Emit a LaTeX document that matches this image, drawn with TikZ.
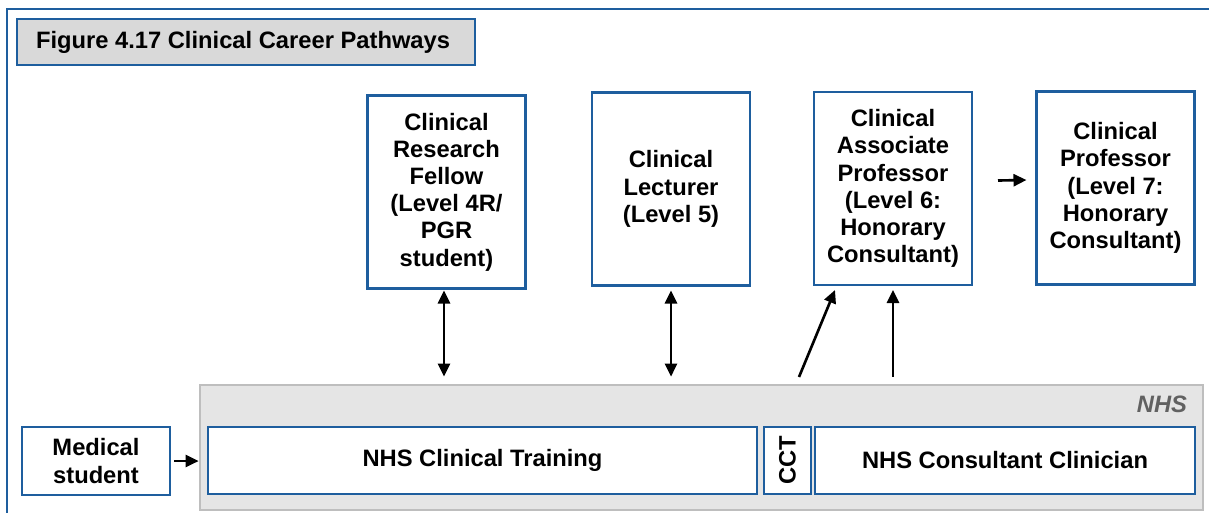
\documentclass[tikz,border=0pt]{standalone}
\usepackage{fontspec}
\setmainfont{Liberation Sans}
\usepackage{xcolor}
\usepackage{tikz}
\usetikzlibrary{arrows.meta, positioning, calc}

\definecolor{nhsblue}{RGB}{30,94,158}
\definecolor{nhsgrey}{RGB}{229,229,229}
\definecolor{nhsedge}{RGB}{190,190,190}
\definecolor{titlegrey}{RGB}{217,217,217}

\begin{document}
\begin{tikzpicture}[
  font=\fontsize{13.5}{15.5}\selectfont\bfseries,
  rolebox/.style={
    draw=nhsblue, fill=white, line width=1.5pt,
    minimum width=3.16cm, minimum height=3.86cm,
    align=center, inner sep=0pt, outer sep=0pt
  },
  lowbox/.style={
    draw=nhsblue, fill=white, line width=1.5pt,
    minimum height=1.34cm, align=center, inner sep=0pt, outer sep=0pt
  },
  titlebox/.style={
    draw=nhsblue, fill=titlegrey, line width=1.5pt,
    minimum width=9.16cm, minimum height=0.92cm, inner sep=0pt
  },
  nhsbox/.style={
    draw=nhsedge, fill=nhsgrey, line width=1.5pt,
    minimum width=20.06cm, minimum height=2.5cm, inner sep=0pt
  },
  arr/.style={-{Triangle[length=0.26cm,width=0.24cm]}, line width=1.5pt},
  dblarr/.style={{Triangle[length=0.26cm,width=0.24cm]}-{Triangle[length=0.26cm,width=0.24cm]}, line width=1.5pt}
]
\useasboundingbox (0,0) rectangle (24.18,-10.24);

% ── Outer frame ──────────────────────────────────────────────
\draw[nhsblue, line width=1.5pt] (0.14,-0.18) rectangle (24.5,-10.6);

% ── Title ────────────────────────────────────────────────────
\node[titlebox] (title) at (4.92,-0.84) {};
\node[anchor=west, inner sep=0pt] (titletext) at ([xshift=0.4cm]title.west) {Figure 4.17 Clinical Career Pathways};

% ── Academic posts ───────────────────────────────────────────
\node[rolebox] (fellow)   at (8.93,-3.84)  {Clinical\\Research\\Fellow\\(Level 4R/\\PGR\\student)};
\node[rolebox] (lecturer) at (13.42,-3.78) {Clinical\\Lecturer\\(Level 5)};
\node[rolebox] (assoc)    at (17.86,-3.77) {Clinical\\Associate\\Professor\\(Level 6:\\Honorary\\Consultant)};
\node[rolebox] (prof)     at (22.31,-3.76) {Clinical\\Professor\\(Level 7:\\Honorary\\Consultant)};

% ── NHS strip ────────────────────────────────────────────────
\node[nhsbox] (nhs) at (14.03,-8.95) {};
\node[anchor=north east, font=\fontsize{13.5}{15.5}\selectfont\bfseries\itshape,
      text=black!62, inner sep=0pt] (nhslabel) at ([xshift=-0.34cm,yshift=-0.24cm]nhs.north east) {NHS};
\node[lowbox, minimum width=10.98cm] (training) at (9.65,-9.21)  {NHS Clinical Training};
\node[lowbox, minimum width=0.94cm]  (cct)      at (15.75,-9.21) {\rotatebox{90}{CCT}};
\node[lowbox, minimum width=7.6cm]   (consult)  at (20.10,-9.21) {NHS Consultant Clinician};

% ── Entry ────────────────────────────────────────────────────
\node[lowbox, minimum width=2.96cm, minimum height=1.36cm] (med) at (1.92,-9.22) {Medical\\student};

% ── Connectors ───────────────────────────────────────────────
\draw[arr] ([xshift=0.08cm]med.east) -- (med.east -| nhs.west);
\draw[dblarr] ([xshift=-0.05cm,yshift=-0.04cm]fellow.south) -- ([xshift=-0.05cm,yshift=0.14cm]fellow.south |- nhs.north);
\draw[dblarr] ([yshift=-0.1cm]lecturer.south) -- ([yshift=0.14cm]lecturer.south |- nhs.north);
\coordinate (cctout) at (15.98,-7.54);
\draw[arr] (cctout) -- ([xshift=0.42cm,yshift=-0.1cm]assoc.south west);
\draw[arr] ([yshift=0.14cm]assoc.south |- nhs.north) -- ([yshift=-0.1cm]assoc.south);
\draw[arr] ([xshift=0.52cm,yshift=0.16cm]assoc.east) -- ([xshift=-0.2cm,yshift=0.16cm]prof.west);

\end{tikzpicture}
\end{document}
